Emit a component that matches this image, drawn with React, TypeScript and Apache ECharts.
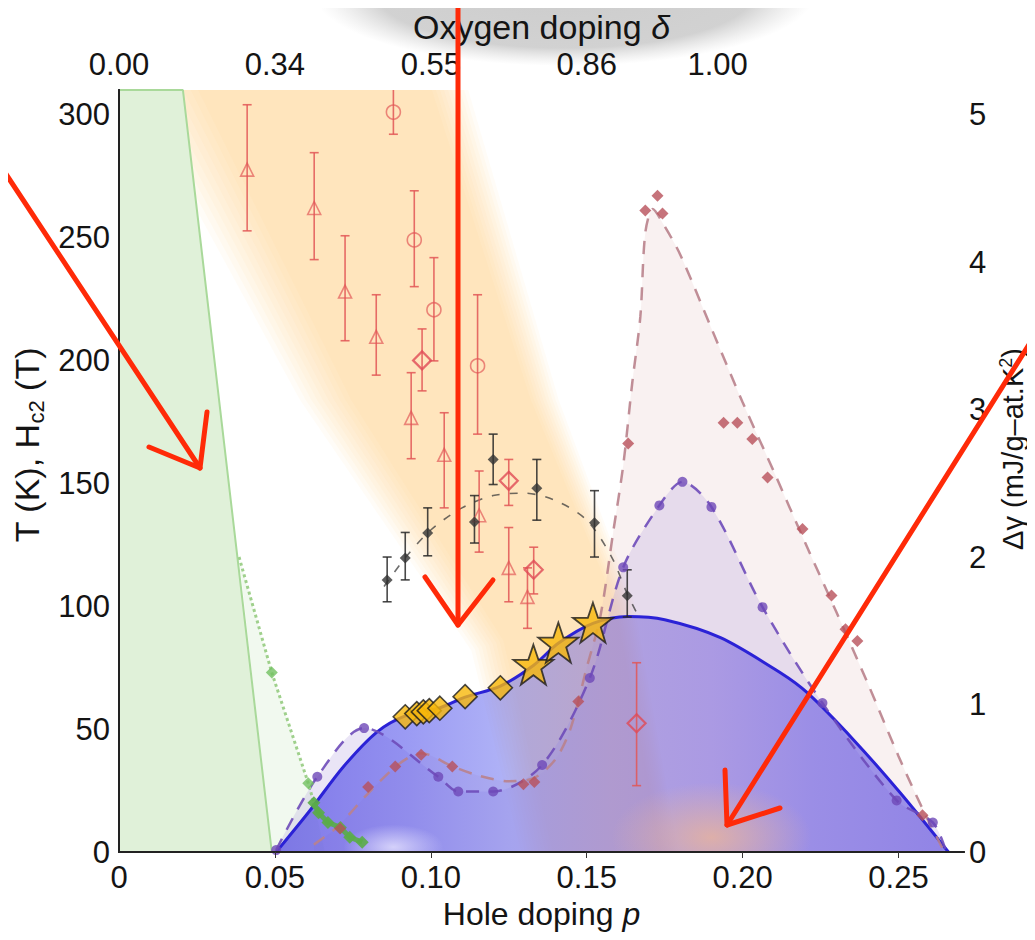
import React, { useEffect, useRef } from "react";
import * as echarts from "echarts";

// ---------- axes ----------
const P_MAX = 0.271;
const T_MAX = 310;
const DG_MAX = T_MAX / 60;
const P_STEP = 0.05;
const T_STEP = 50;
const DG_STEP = 1;
const topLabelPositions = [0, 0.05, 0.1, 0.15, 0.192];
const topLabelTexts = ["0.00", "0.34", "0.55", "0.86", "1.00"];
const topTickPositions = [0.05, 0.1, 0.15, 0.2, 0.25];

// ---------- regions (p, T) ----------
const greenEdge = [[0, 310], [0.0205, 310], [0.049, 0]];
const greenDotted = [[0.0385, 120], [0.049, 73], [0.0607, 28], [0.0625, 20]];
const greenFaintClose = [[0.066, 0], [0.049, 0]];
const greenDiamonds = [[0.049, 73], [0.0607, 28]];
const greenTail = [[0.0625, 20], [0.064, 16], [0.067, 12], [0.071, 10], [0.074, 6], [0.078, 4]];
const orangeLeftEdge = [[0.004, 310], [0.058, 184], [0.113, 82], [0.13, -5]];
const orangeRightEdge = [[0.112, 310], [0.141, 184], [0.165, 102], [0.18, -5]];

// ---------- Tc dome (p, T) ----------
const tcDome = [
  [0.0504, 0], [0.0613, 17], [0.0719, 34.6], [0.0828, 48.9], [0.092, 55.5], [0.103, 58.7],
  [0.111, 63], [0.1223, 67.5], [0.133, 76], [0.141, 85], [0.152, 93], [0.1633, 95.8],
  [0.175, 94.5], [0.1929, 87.2], [0.212, 73], [0.2208, 64.7], [0.2356, 45.6], [0.2506, 24], [0.266, 0],
];
const yellowDiamonds = [[0.0918, 55], [0.0955, 56.3], [0.0976, 57], [0.0995, 57.5], [0.1029, 58.5], [0.111, 63.2], [0.1223, 66.8]];
const yellowStars = [[0.1329, 76.2], [0.1409, 85.2], [0.152, 93.3]];

// ---------- Δγ data (p, mJ/g-at.K²) ----------
const darkRedDiamonds = [
  [0.0709, 0.16], [0.0799, 0.44], [0.0886, 0.58], [0.0969, 0.66], [0.1069, 0.58], [0.1297, 0.46],
  [0.1332, 0.475], [0.1473, 1.02], [0.1633, 2.77], [0.1688, 4.35], [0.1727, 4.45], [0.1743, 4.33],
  [0.1939, 2.91], [0.1983, 2.91], [0.2031, 2.8], [0.208, 2.54], [0.2192, 2.19], [0.2285, 1.74],
  [0.233, 1.51], [0.2368, 1.43], [0.2577, 0.25],
];
const darkRedFit = [
  [0.0625, 0.05], [0.07, 0.17], [0.08, 0.4], [0.09, 0.6], [0.097, 0.67], [0.107, 0.58], [0.115, 0.52],
  [0.125, 0.48], [0.133, 0.5], [0.14, 0.63], [0.1447, 0.83], [0.15, 1.25], [0.1544, 1.6], [0.1585, 2.17],
  [0.1617, 2.62], [0.1646, 3.18], [0.1672, 3.63], [0.1688, 4.2], [0.1712, 4.36], [0.1745, 4.26],
  [0.18, 4.05], [0.19, 3.55], [0.2, 3.05], [0.21, 2.58], [0.22, 2.1], [0.23, 1.63], [0.24, 1.15],
  [0.25, 0.65], [0.258, 0.28], [0.264, 0.03],
];
const purpleDots = [
  [0.0504, 0.013], [0.0636, 0.51], [0.0786, 0.84], [0.1024, 0.51], [0.1088, 0.41], [0.12, 0.41],
  [0.1357, 0.59], [0.151, 1.18], [0.1617, 1.93], [0.1733, 2.35], [0.1807, 2.51], [0.19, 2.34],
  [0.2064, 1.66], [0.2256, 1.01], [0.2494, 0.35], [0.261, 0.2],
];
const purpleFit = [...purpleDots, [0.265, 0.02]];

// ---------- points with error bars: [p, T, low, high] ----------
const redTriangles = [
  [0.0411, 277.6, 252.7, 304], [0.0626, 262, 241, 284.5], [0.0725, 228, 208, 250.7],
  [0.0825, 209.6, 194, 226.7], [0.0937, 176.6, 160, 195], [0.1043, 161.6, 140, 178.7],
  [0.1155, 137, 122, 155], [0.125, 115.6, 101.8, 132], [0.131, 103.8, 91, 115.6],
];
const redCircles = [
  [0.088, 301, 292, 312], [0.0947, 249, 230, 269], [0.101, 220.6, 199.8, 241.8], [0.115, 197.8, 170, 226.7],
];
const redOpenDiamonds = [
  [0.0972, 200, 187.6, 212.8], [0.125, 151, 141, 159.7], [0.133, 114.8, 105, 124], [0.166, 52.4, 27, 77],
];
const blackDiamonds = [
  [0.086, 110.7, 101.8, 120], [0.0918, 119.6, 110.7, 130], [0.099, 129.8, 120.5, 140],
  [0.114, 134.3, 125.7, 145], [0.12, 159.7, 149.5, 170], [0.134, 148, 135, 159.7],
  [0.1525, 133.9, 120, 147], [0.163, 104.2, 95.6, 114.8],
];
const blackFit = [
  [0.085, 108], [0.092, 120], [0.1, 131], [0.11, 140], [0.12, 145], [0.13, 146], [0.14, 143],
  [0.15, 135], [0.158, 120], [0.163, 105], [0.167, 95],
];
const glowCenters = [[0.19, 6], [0.088, 2]];

const FONT = "'Liberation Sans', Arial, Helvetica, sans-serif";
const TXT = "#141414";
const STAR = "path://M12,0 L14.9,8.1 L23.4,8.1 L16.5,13.2 L19.1,21.4 L12,16.3 L4.9,21.4 L7.5,13.2 L0.6,8.1 L9.1,8.1 Z";
const ARROW = "#ff2a08";

const near = (v: number, step: number) => Math.abs(v / step - Math.round(v / step)) < 1e-6;

function errorBars(data: number[][], color: string, z: number) {
  return {
    type: "custom",
    z,
    clip: true,
    data,
    encode: { x: 0, y: [2, 3] },
    renderItem: (_p: any, api: any) => {
      const x = api.value(0);
      const top = api.coord([x, api.value(3)]);
      const bot = api.coord([x, api.value(2)]);
      const c = 4.5;
      const st = { stroke: color, lineWidth: 1.6 };
      return {
        type: "group",
        children: [
          { type: "line", shape: { x1: top[0], y1: top[1], x2: bot[0], y2: bot[1] }, style: st },
          { type: "line", shape: { x1: top[0] - c, y1: top[1], x2: top[0] + c, y2: top[1] }, style: st },
          { type: "line", shape: { x1: bot[0] - c, y1: bot[1], x2: bot[0] + c, y2: bot[1] }, style: st },
        ],
      };
    },
  };
}

function arrowParts(shaft: number[][], head: number[][]) {
  const st = { stroke: ARROW, lineWidth: 5, lineCap: "round", lineJoin: "round", fill: null };
  return [
    { type: "polyline", z: 300, silent: true, shape: { points: shaft }, style: st },
    { type: "polyline", z: 300, silent: true, shape: { points: head }, style: st },
  ];
}

function buildOption() {
  const red = "rgba(226,86,86,0.85)";
  const blk = "rgba(40,40,40,0.85)";
  const labelStyle = { fontFamily: FONT, fontSize: 31, color: TXT };
  return {
    animation: false,
    grid: { left: 111, top: 82, width: 845, height: 762, containLabel: false, outerBoundsMode: "none" },
    xAxis: [
      {
        type: "value", position: "bottom", min: 0, max: P_MAX, interval: P_STEP, z: 10,
        axisLine: { lineStyle: { color: "#222", width: 2 } },
        axisTick: { show: false }, splitLine: { show: false },
        axisLabel: { ...labelStyle, margin: 10, formatter: (v: number) => (near(v, P_STEP) ? (v === 0 ? "0" : v.toFixed(2)) : "") },
        name: "Hole doping {i|p}", nameLocation: "middle", nameGap: 46,
        nameTextStyle: { fontFamily: FONT, fontSize: 32, color: TXT, rich: { i: { fontFamily: FONT, fontSize: 32, fontStyle: "italic", color: TXT } } },
      },
      {
        type: "value", position: "top", min: 0, max: P_MAX, z: 10,
        axisLine: { lineStyle: { color: "#222", width: 2 } },
        axisTick: { show: true, inside: true, length: 6, customValues: topTickPositions, lineStyle: { color: "#333" } },
        splitLine: { show: false },
        axisLabel: {
          ...labelStyle, margin: 10, customValues: topLabelPositions,
          formatter: (v: number) => {
            const i = topLabelPositions.findIndex((q) => Math.abs(q - v) < 1e-6);
            return i >= 0 ? topLabelTexts[i] : "";
          },
        },
        name: "Oxygen doping {i|δ}", nameLocation: "middle", nameGap: 46,
        nameTextStyle: { fontFamily: FONT, fontSize: 34, color: TXT, rich: { i: { fontFamily: FONT, fontSize: 34, fontStyle: "italic", color: TXT } } },
      },
    ],
    yAxis: [
      {
        type: "value", position: "left", min: 0, max: T_MAX, interval: T_STEP, z: 10,
        axisLine: { show: true, lineStyle: { color: "#222", width: 2 } },
        axisTick: { show: false }, splitLine: { show: false },
        axisLabel: { ...labelStyle, margin: 9, formatter: (v: number) => (near(v, T_STEP) ? String(v) : "") },
        name: "T (K), H{s|c2} (T)", nameLocation: "middle", nameGap: 66,
        nameTextStyle: {
          fontFamily: FONT, fontSize: 34, color: TXT, lineHeight: 40, padding: [0, 0, 0, 52],
          rich: { s: { fontFamily: FONT, fontSize: 22, color: TXT, verticalAlign: "bottom", lineHeight: 40 } },
        },
      },
      {
        type: "value", position: "right", min: 0, max: DG_MAX, interval: DG_STEP, z: 10,
        axisLine: { show: true, lineStyle: { color: "#222", width: 2 } },
        axisTick: { show: false }, splitLine: { show: false },
        axisLabel: { ...labelStyle, margin: 5, formatter: (v: number) => (near(v, DG_STEP) ? String(Math.round(v)) : "") },
        name: "Δγ (mJ/g–at.K{u|2})", nameLocation: "middle", nameGap: 26,
        nameTextStyle: {
          fontFamily: FONT, fontSize: 29, color: TXT, lineHeight: 32, padding: [0, 0, 0, 44],
          rich: { u: { fontFamily: FONT, fontSize: 18, color: TXT, verticalAlign: "top", lineHeight: 32 } },
        },
      },
    ],
    series: [
      // orange band with soft edges (under the green region)
      {
        type: "custom", z: 1, clip: true, data: [0],
        renderItem: (_p: any, api: any) => {
          const L = orangeLeftEdge.map((d) => api.coord(d));
          const R = orangeRightEdge.map((d) => api.coord(d));
          const steps = [0, 1, 2, 3, 4, 5, 6, 7, 8, 9];
          return {
            type: "group",
            children: steps.map((k) => {
              const fl = k * 0.022;
              const fr = k * 0.012;
              const l = L.map((a, i) => [a[0] + fl * (R[i][0] - a[0]), a[1] + fl * (R[i][1] - a[1])]);
              const r = R.map((b, i) => [b[0] - fr * (b[0] - L[i][0]), b[1] - fr * (b[1] - L[i][1])]);
              return { type: "polygon", shape: { points: [...l, ...r.reverse()] }, style: { fill: "rgba(248,198,118,0.055)" } };
            }),
          };
        },
      },
      // green region
      {
        type: "line", data: greenEdge, symbol: "none", z: 2,
        lineStyle: { color: "#a9d99a", width: 2 },
        areaStyle: { color: "rgb(224,241,217)", opacity: 1, origin: "start" },
      },
      {
        type: "custom", z: 2, clip: true, data: [0],
        renderItem: (_p: any, api: any) => ({
          type: "polygon",
          shape: { points: [...greenDotted, ...greenFaintClose].map((d) => api.coord(d)) },
          style: { fill: "rgba(150,210,130,0.13)" },
        }),
      },
      // Δγ areas
      {
        type: "line", yAxisIndex: 1, data: darkRedFit, smooth: 0.3, symbol: "none", z: 3,
        lineStyle: { width: 0 }, areaStyle: { color: "rgba(225,190,190,0.3)" },
      },
      {
        type: "line", yAxisIndex: 1, data: purpleFit, smooth: 0.3, symbol: "none", z: 3,
        lineStyle: { width: 0 }, areaStyle: { color: "rgba(182,165,225,0.42)" },
      },
      // Tc dome
      {
        type: "line", data: tcDome, smooth: 0.3, symbol: "none", z: 5,
        lineStyle: { color: "#2b22d6", width: 3 },
        areaStyle: {
          color: new echarts.graphic.LinearGradient(0, 0, 1, 0, [
            { offset: 0, color: "rgba(70,60,225,0.92)" },
            { offset: 0.2, color: "rgba(90,90,236,0.86)" },
            { offset: 0.35, color: "rgba(115,120,240,0.8)" },
            { offset: 0.5, color: "rgba(128,110,214,0.76)" },
            { offset: 0.65, color: "rgba(122,100,220,0.78)" },
            { offset: 0.8, color: "rgba(102,88,226,0.84)" },
            { offset: 1, color: "rgba(92,78,226,0.88)" },
          ]),
        },
      },
      // glows inside the dome
      {
        type: "custom", z: 6, clip: true, data: glowCenters,
        renderItem: (p: any, api: any) => {
          const c = api.coord([api.value(0), api.value(1)]);
          const orange = p.dataIndex === 0;
          const r = orange ? 100 : 50;
          return {
            type: "circle", x: c[0], y: c[1], scaleY: orange ? 0.55 : 0.45, shape: { cx: 0, cy: 0, r },
            style: {
              fill: new echarts.graphic.RadialGradient(0.5, 0.5, 0.5, [
                { offset: 0, color: orange ? "rgba(238,182,150,0.75)" : "rgba(235,232,255,0.75)" },
                { offset: 1, color: orange ? "rgba(238,182,150,0)" : "rgba(235,232,255,0)" },
              ]),
            },
          };
        },
      },
      // dashed fits
      {
        type: "line", yAxisIndex: 1, data: darkRedFit, smooth: 0.3, symbol: "none", z: 7,
        lineStyle: { color: "rgba(185,130,140,0.9)", width: 2.5, type: [13, 10] },
      },
      {
        type: "line", yAxisIndex: 1, data: purpleFit, smooth: 0.3, symbol: "none", z: 7,
        lineStyle: { color: "rgba(110,75,185,0.9)", width: 2.5, type: [13, 10] },
      },
      {
        type: "line", data: blackFit, smooth: 0.3, symbol: "none", z: 7,
        lineStyle: { color: "rgba(60,60,60,0.75)", width: 1.6, type: [8, 10] },
      },
      // green markers
      {
        type: "line", data: greenDotted, symbol: "none", z: 8,
        lineStyle: { color: "#9fd08c", width: 3, type: "dotted" },
      },
      { type: "scatter", data: greenDiamonds, symbol: "diamond", symbolSize: 12, z: 8, itemStyle: { color: "#72c060" } },
      {
        type: "line", data: greenTail, symbol: "diamond", symbolSize: 13, z: 8,
        lineStyle: { color: "rgba(90,172,72,0.9)", width: 5 }, itemStyle: { color: "rgba(90,172,72,0.9)" },
      },
      // Δγ markers
      { type: "scatter", yAxisIndex: 1, data: purpleDots, symbol: "circle", symbolSize: 10, z: 9, itemStyle: { color: "#6e48b8" } },
      { type: "scatter", yAxisIndex: 1, data: darkRedDiamonds, symbol: "diamond", symbolSize: 12, z: 9, itemStyle: { color: "#b8505a" } },
      // error bars + open markers
      errorBars(redTriangles, red, 9),
      errorBars(redCircles, red, 9),
      errorBars(redOpenDiamonds, red, 9),
      errorBars(blackDiamonds, blk, 9),
      {
        type: "scatter", data: redTriangles, symbol: "triangle", symbolSize: 13, z: 10,
        encode: { x: 0, y: 1 }, itemStyle: { color: "rgba(255,255,255,0)", borderColor: red, borderWidth: 1.6 },
      },
      {
        type: "scatter", data: redCircles, symbol: "circle", symbolSize: 14, z: 10,
        encode: { x: 0, y: 1 }, itemStyle: { color: "rgba(255,255,255,0)", borderColor: red, borderWidth: 1.6 },
      },
      {
        type: "scatter", data: redOpenDiamonds, symbol: "diamond", symbolSize: 18, z: 10,
        encode: { x: 0, y: 1 }, itemStyle: { color: "rgba(255,255,255,0)", borderColor: "#e04a55", borderWidth: 2.2 },
      },
      {
        type: "scatter", data: blackDiamonds, symbol: "diamond", symbolSize: 11, z: 10,
        encode: { x: 0, y: 1 }, itemStyle: { color: "#333" },
      },
      // yellow markers on the Tc dome
      {
        type: "scatter", data: yellowDiamonds, symbol: "diamond", symbolSize: 24, z: 11,
        itemStyle: { color: "#f7b80a", borderColor: "#1a1a1a", borderWidth: 1.6 },
      },
      {
        type: "scatter", data: yellowStars, symbol: STAR, symbolSize: 40, z: 11,
        itemStyle: { color: "#f7b80a", borderColor: "#1a1a1a", borderWidth: 1.8 },
      },
    ],
    graphic: [
      {
        type: "ellipse", z: -10, silent: true,
        shape: { cx: 557, cy: -14, rx: 250, ry: 72 },
        style: {
          fill: new echarts.graphic.RadialGradient(0.5, 0.5, 0.5, [
            { offset: 0, color: "rgba(192,192,192,0.8)" },
            { offset: 0.75, color: "rgba(192,192,192,0.72)" },
            { offset: 1, color: "rgba(210,210,210,0)" },
          ]),
        },
      },
      ...arrowParts([[-8, 157], [192, 460]], [[141, 439], [192, 460], [199, 404]]),
      ...arrowParts([[450, -8], [450, 617]], [[417, 569], [450, 617], [485, 572]]),
      ...arrowParts([[1027, 327], [719, 817]], [[717, 762], [719, 817], [772, 800]]),
    ],
  };
}

export default function App() {
  const ref = useRef<HTMLDivElement>(null);
  useEffect(() => {
    if (!ref.current) return;
    const chart = echarts.init(ref.current, null, { renderer: "svg" });
    chart.setOption(buildOption() as any);
    return () => chart.dispose();
  }, []);
  return <div ref={ref} style={{ width: 1027, height: 924 }} />;
}
